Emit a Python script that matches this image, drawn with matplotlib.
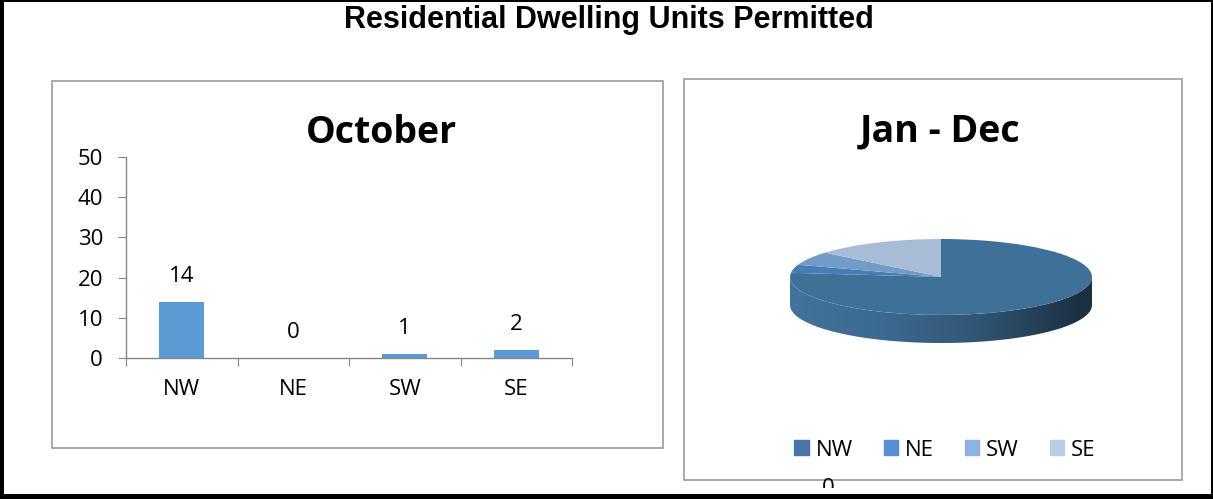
import matplotlib
matplotlib.use("Agg")
import matplotlib.pyplot as plt
import numpy as np
from matplotlib.patches import Rectangle, Polygon
from matplotlib.colors import to_rgb

# data
regions = ['NW', 'NE', 'SW', 'SE']
october = [14, 0, 1, 2]
year_total = [132, 6, 10, 24]

top_colors = ['#3f7098', '#467db4', '#739bc8', '#a8bcd6']
legend_colors = ['#4677aa', '#558ed5', '#8db3e2', '#b9cde5']
bar_color = '#5b9bd5'
frame_gray = '#a3a3a3'

W, H = 1213, 499
fig = plt.figure(figsize=(W / 100, H / 100), dpi=100)
fig.patch.set_facecolor('white')

def fx(px):
    return px / W

def fy(py):
    return 1 - py / H

def frame(x0, y0, x1, y1, color, lw, z=1):
    r = Rectangle((fx(x0), fy(y1)), fx(x1 - x0), (y1 - y0) / H,
                  transform=fig.transFigure, fill=False, ec=color, lw=lw, zorder=z)
    fig.add_artist(r)

cfont = 'Open Sans'

fig.text(fx(609), fy(20), 'Residential Dwelling Units Permitted', ha='center', va='center',
         fontsize=22, fontweight='bold', family='Liberation Sans')

# panel frames
frame(52, 81, 663, 448, frame_gray, 1.3)
frame(684, 79, 1182, 480, frame_gray, 1.3)

# ---- bar chart ----
ax = fig.add_axes([fx(126), fy(358), fx(572 - 126), (358 - 157) / H])
x = np.arange(len(regions))
ax.bar(x, october, width=0.4, color=bar_color, zorder=2)
ax.set_ylim(0, 50)
ax.set_xlim(-0.5, len(regions) - 0.5)
ax.set_yticks([0, 10, 20, 30, 40, 50])
ax.set_xticks(np.arange(len(regions) + 1) - 0.5)
ax.set_xticklabels([])
ax.set_xticks(x, minor=True)
ax.set_xticklabels(regions, minor=True)
for s in ['top', 'right']:
    ax.spines[s].set_visible(False)
for s in ['left', 'bottom']:
    ax.spines[s].set_color('#868686')
    ax.spines[s].set_linewidth(1.0)
ax.tick_params(axis='y', length=5.5, color='#868686', pad=11, labelsize=16)
ax.tick_params(axis='x', which='major', length=5.5, color='#868686')
ax.tick_params(axis='x', which='minor', length=0, pad=15, labelsize=16)
for lab in ax.get_yticklabels() + ax.get_xticklabels(minor=True):
    lab.set_family(cfont)
for i, v in enumerate(october):
    ax.annotate(str(v), (i, v), xytext=(0, 18), textcoords='offset points',
                ha='center', va='center', fontsize=16, family=cfont)

fig.text(fx(381), fy(133), 'October', ha='center', va='center', fontsize=27,
         fontweight='bold', family=cfont)
fig.text(fx(940), fy(131), 'Jan - Dec', ha='center', va='center', fontsize=27,
         fontweight='bold', family=cfont)

# ---- 3D-looking pie ----
depth = 0.74
pax = fig.add_axes([fx(790), fy(315 + 28), fx(1092 - 790), (315 + 28 - 239) / H])
wedges, _ = pax.pie(year_total, colors=top_colors, startangle=90, counterclock=False,
                    radius=1, center=(0, 0), wedgeprops=dict(linewidth=0))
pax.set_aspect('auto')
pax.axis('off')

shade_x = [-1.0, -0.4, 0.2, 0.9, 1.0]
shade_f = [1.03, 0.95, 0.78, 0.45, 0.42]
gx = np.linspace(-1, 1, 400)
shade = np.interp(gx, shade_x, shade_f)

for w, col in zip(wedges, top_colors):
    w.set_zorder(3)
    t1, t2 = w.theta1, w.theta2
    base = np.array(to_rgb(col))
    for k in (-360, 0, 360):
        a = max(t1, 180 + k)
        b = min(t2, 360 + k)
        if b <= a:
            continue
        t = np.radians(np.linspace(a, b, 120))
        top = np.column_stack([np.cos(t), np.sin(t)])
        bot = np.column_stack([np.cos(t[::-1]), np.sin(t[::-1]) - depth])
        poly = Polygon(np.vstack([top, bot]), closed=True, fc='none', ec='none',
                       transform=pax.transData)
        pax.add_patch(poly)
        img = np.clip(base[None, None, :] * shade[None, :, None], 0, 1)
        im = pax.imshow(img, extent=(-1, 1, -1 - depth, 0), aspect='auto',
                        interpolation='bilinear', zorder=2)
        im.set_clip_path(poly)

pax.set_xlim(-1, 1)
pax.set_ylim(-1 - depth, 1)

# legend
handles = [Rectangle((0, 0), 1, 1, color=c) for c in legend_colors]
fig.legend(handles, regions, loc='center', bbox_to_anchor=(fx(945), fy(450)), ncol=4,
           frameon=False, prop={'family': cfont, 'size': 16}, handlelength=0.65,
           handleheight=0.65, handletextpad=0.3, columnspacing=1.4)

# stray label cut at the bottom
fig.text(fx(828), fy(488), '0', ha='center', va='center', fontsize=16, family=cfont, zorder=1)
fig.add_artist(Rectangle((fx(790), fy(495)), fx(80), 7 / H, transform=fig.transFigure,
                         fc='white', ec='none', zorder=5))

# outer black border
fig.add_artist(Rectangle((0, 0), 1, 5 / H, transform=fig.transFigure, fc='black', ec='none', zorder=6))
fig.add_artist(Rectangle((0, 0), 4 / W, 1, transform=fig.transFigure, fc='black', ec='none', zorder=6))
fig.add_artist(Rectangle((1 - 2 / W, 0), 2 / W, 1, transform=fig.transFigure, fc='black', ec='none', zorder=6))
fig.add_artist(Rectangle((0, 1 - 2 / H), 1, 2 / H, transform=fig.transFigure, fc='black', ec='none', zorder=6))

fig.savefig('out.png', dpi=100, facecolor='white')
plt.close(fig)
